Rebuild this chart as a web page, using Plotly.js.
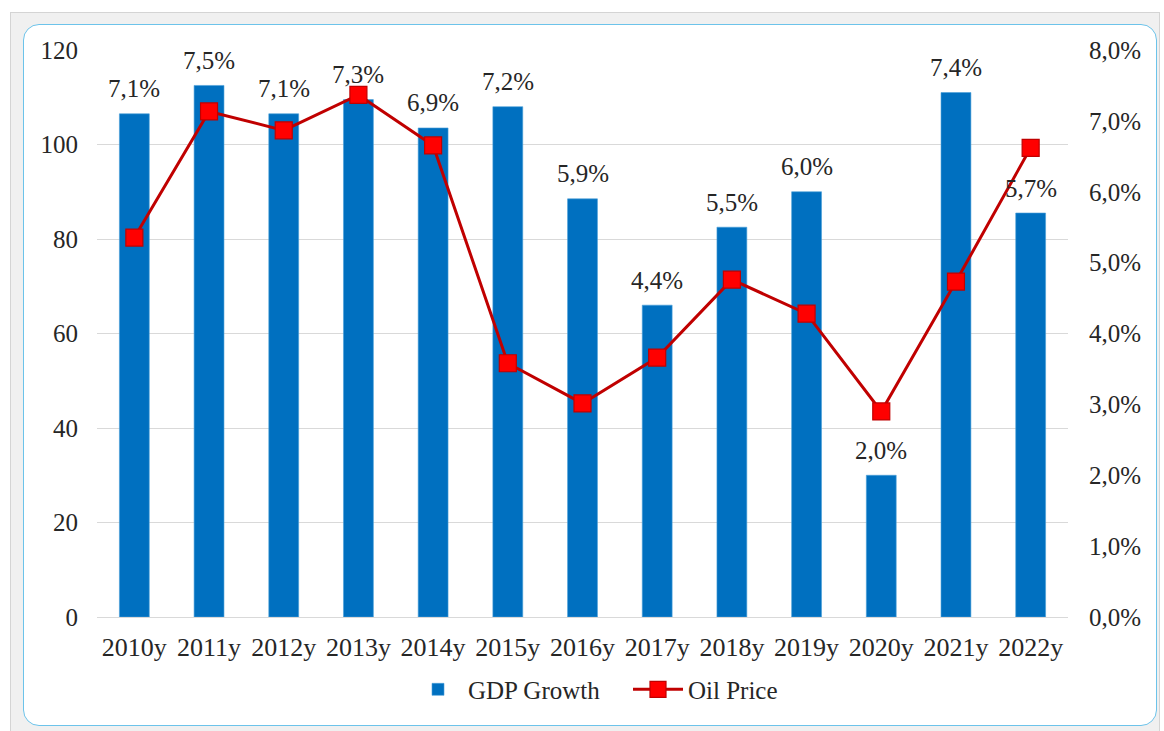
<!DOCTYPE html>
<html>
<head>
<meta charset="utf-8">
<script src="https://cdn.plot.ly/plotly-3.0.1.min.js"></script>
<style>
  html, body { margin: 0; padding: 0; background: #ffffff; }
  #wrap { position: relative; width: 1164px; height: 731px; overflow: hidden; }
  #outer { position: absolute; left: 10px; top: 12px; width: 1150px; height: 722px;
           background: #f0f0f0; border: 1px solid #d4d4d4; box-sizing: border-box; }
  #inner { position: absolute; left: 23px; top: 24px; width: 1134px; height: 702px;
           background: #ffffff; border: 1.5px solid #6cc3ea; border-radius: 16px; box-sizing: border-box; }
  #chart { position: absolute; left: 0; top: 0; width: 1164px; height: 731px; }
  #chart .legendtext { font-family: 'Liberation Serif', serif !important; }
</style>
</head>
<body>
<div id="wrap">
  <div id="outer"></div>
  <div id="inner"></div>
  <div id="chart"></div>
</div>
<script>
const years = ["2010y","2011y","2012y","2013y","2014y","2015y","2016y","2017y","2018y","2019y","2020y","2021y","2022y"];
const gdpGrowth = [7.1, 7.5, 7.1, 7.3, 6.9, 7.2, 5.9, 4.4, 5.5, 6.0, 2.0, 7.4, 5.7];
const oilPrice = [80.3, 107, 103, 110.5, 99.8, 53.7, 45.2, 54.9, 71.4, 64.2, 43.5, 71, 99.3];
const leftTicks = [0, 20, 40, 60, 80, 100, 120];
const rightTicks = [0, 1, 2, 3, 4, 5, 6, 7, 8];

const FONT = "Liberation Serif";
const TXT = "#262626";
const FS = 25;

const fmtPct = v => v.toFixed(1).replace(".", ",") + "%";

const traces = [
  {
    type: "bar",
    name: "GDP Growth",
    x: years,
    y: gdpGrowth,
    yaxis: "y",
    legend: "legend",
    marker: { color: "#0070C0", line: { color: "#4a9fd8", width: 0.6 } },
    hoverinfo: "x+y"
  },
  {
    type: "scatter",
    mode: "lines+markers",
    name: "Oil Price",
    x: years,
    y: oilPrice,
    yaxis: "y2",
    legend: "legend2",
    line: { color: "#C00000", width: 3 },
    marker: { symbol: "square", size: 17, color: "#FF0000", line: { color: "#C00000", width: 1.2 } }
  }
];

const annotations = years.map((yr, i) => ({
  x: yr, y: gdpGrowth[i], xref: "x", yref: "y",
  text: fmtPct(gdpGrowth[i]),
  showarrow: false, yanchor: "middle", yshift: 25,
  font: { family: FONT, size: FS, color: TXT }
}));

const legendCommon = {
  orientation: "h", yanchor: "middle", y: -0.128, xanchor: "left",
  font: { family: FONT, size: FS, color: TXT }, itemwidth: 50, bgcolor: "rgba(0,0,0,0)"
};

const layout = {
  width: 1164, height: 731,
  margin: { l: 97, r: 96, t: 50, b: 114 },
  paper_bgcolor: "rgba(0,0,0,0)",
  plot_bgcolor: "rgba(0,0,0,0)",
  separators: ",.",
  font: { family: FONT, size: FS, color: TXT },
  bargap: 0.6,
  showlegend: true,
  legend: Object.assign({}, legendCommon, { x: (408 - 97) / 971 }),
  legend2: Object.assign({}, legendCommon, { x: (628 - 97) / 971 }),
  xaxis: {
    type: "category",
    range: [-0.5, 12.5],
    showgrid: false,
    showline: true, linecolor: "#d9d9d9", linewidth: 1,
    ticks: "", ticklabelstandoff: 7,
    tickfont: { family: FONT, size: 26, color: TXT }
  },
  yaxis: {
    side: "right",
    range: [0, 8],
    tickvals: rightTicks,
    ticktext: rightTicks.map(v => fmtPct(v)),
    showgrid: false, zeroline: false, showline: false,
    ticks: "", ticklabelstandoff: 20,
    tickfont: { family: FONT, size: FS, color: TXT }
  },
  yaxis2: {
    overlaying: "y",
    side: "left",
    range: [0, 120],
    tickvals: leftTicks,
    showgrid: true, gridcolor: "#d9d9d9", gridwidth: 1,
    zeroline: false, showline: false,
    ticks: "", ticklabelstandoff: 18,
    tickfont: { family: FONT, size: FS, color: TXT }
  },
  annotations: annotations
};

Plotly.newPlot("chart", traces, layout, { displayModeBar: false, responsive: false });
</script>
</body>
</html>
